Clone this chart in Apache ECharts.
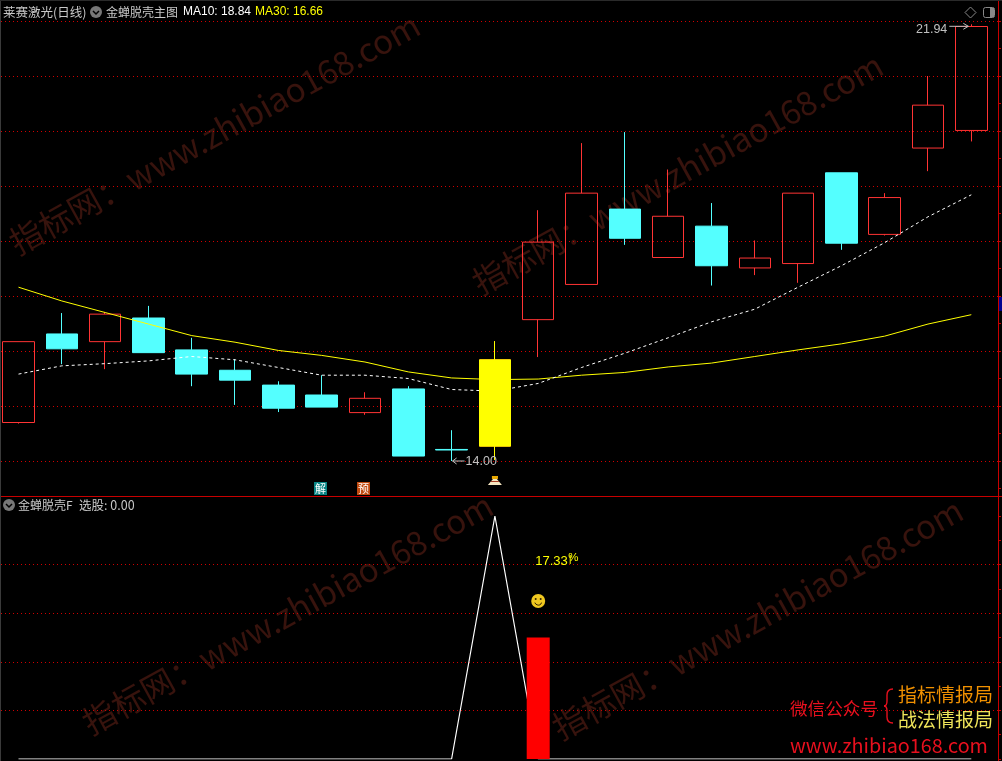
<!DOCTYPE html>
<html><head><meta charset="utf-8">
<style>html,body{margin:0;padding:0;background:#000;overflow:hidden}#c{width:1002px;height:761px}</style>
<script src="https://cdn.jsdelivr.net/npm/echarts@6/dist/echarts.min.js"></script>
</head><body><div id="c"></div>
<script>
const days = ['1','2','3','4','5','6','7','8','9','10','11','12','13','14','15','16','17','18','19','20','21','22','23'];
const opens  = [14.70,16.31,16.17,16.60,16.02,15.65,15.38,15.20,14.88,15.31,14.21,14.27,16.57,17.21,18.58,17.70,18.27,17.51,17.59,19.24,18.12,19.69,20.01];
const closes = [16.17,16.04,16.67,15.97,15.58,15.47,14.96,14.98,15.14,14.09,14.20,15.84,17.98,18.87,18.05,18.45,17.55,17.69,18.87,17.96,18.79,20.47,21.90];
const lows   = [14.68,15.76,15.67,15.97,15.36,15.02,14.89,14.98,14.84,14.09,14.00,14.02,15.89,17.21,17.93,17.70,17.19,17.38,17.24,17.84,18.10,19.27,19.81];
const highs  = [16.17,16.69,16.71,16.82,16.24,15.85,15.45,15.56,15.25,15.36,14.56,16.18,18.56,19.78,19.98,19.30,18.69,18.01,18.87,19.24,18.87,21.00,21.94];
const ma10 = [15.58,15.73,15.77,15.82,15.90,15.84,15.70,15.56,15.56,15.50,15.30,15.27,15.41,15.70,15.96,16.24,16.53,16.76,17.16,17.55,17.97,18.44,18.84];
const ma30 = [17.16,16.91,16.70,16.49,16.28,16.16,16.01,15.92,15.80,15.62,15.51,15.48,15.49,15.56,15.61,15.71,15.78,15.90,16.02,16.13,16.27,16.49,16.66];
const signalLine = [0,0,0,0,0,0,0,0,0,0,0,100,0,0,0,0,0,0,0,0,0,0,0];
const signalBar  = [null,null,null,null,null,null,null,null,null,null,null,null,50,null,null,null,null,null,null,null,null,null,null];
const yellowIndex = 11;
const C_UP='#ff3434', C_DOWN='#54ffff', GRID='#d00000', AXIS='#c80000';
const CJK='"Noto Sans CJK SC",sans-serif', LAT='"Liberation Sans",sans-serif';
const PRICE_MIN=13, PRICE_MAX=13+516/55;

const candles = days.map((d,i)=>[opens[i],closes[i],lows[i],highs[i]]);
const yellowCandles = days.map((d,i)=> i===yellowIndex ? candles[i] : ['-','-','-','-']);

function txt(x,y,text,fill,font,extra){return Object.assign({type:'text',x,y,z:20,silent:true,style:{text,fill,font,textAlign:'left',textVerticalAlign:'middle'}},extra||{});}
function wm(x,y){return {type:'text',x,y,rotation:0.503,z:0,silent:true,style:{text:'指标网：www.zhibiao168.com',fill:'#38130d',font:'33px '+CJK,textAlign:'left',textVerticalAlign:'middle'}};}
function chevron(cx,cy){return [
 {type:'circle',z:20,silent:true,shape:{cx,cy,r:6},style:{fill:'#777'}},
 {type:'polyline',z:21,silent:true,shape:{points:[[cx-3,cy-1],[cx,cy+2],[cx+3,cy-1]]},style:{stroke:'#000',lineWidth:1.5,fill:null}}
];}
const braceStyle={fill:null,stroke:'#e8101e',lineWidth:1.4};
function bez(x1,y1,cx,cy,x2,y2){return {type:'bezierCurve',z:20,silent:true,shape:{x1,y1,cpx1:cx,cpy1:cy,x2,y2},style:braceStyle};}
function seg(x1,y1,x2,y2){return {type:'line',z:20,silent:true,shape:{x1,y1,x2,y2},style:braceStyle};}

const graphicEls = [
 wm(12,245), wm(475,285), wm(85,725), wm(555,730),
 {type:'rect',z:19,silent:true,shape:{x:0,y:496,width:1002,height:1},style:{fill:AXIS}},
 {type:'rect',z:19,silent:true,shape:{x:0,y:0,width:1,height:761},style:{fill:'#3a3a3a'}},
 {type:'rect',z:19,silent:true,shape:{x:0,y:0,width:1002,height:1},style:{fill:'#2a2a2a'}},
 {type:'rect',z:19,silent:true,shape:{x:998,y:759,width:1,height:2},style:{fill:AXIS}},
 {type:'rect',z:19,silent:true,shape:{x:999,y:297,width:3,height:14},style:{fill:'#000090'}},
 txt(3,12,'莱赛激光(日线)','#c8c8c8','12.5px '+CJK),
 ...chevron(96,12),
 txt(106,12,'金蝉脱壳主图','#c8c8c8','12px '+CJK),
 txt(183,12,'MA10: 18.84','#ffffff','12px '+LAT),
 txt(255,12,'MA30: 16.66','#ffff00','12px '+LAT),
 ...chevron(9,505),
 txt(18,505,'金蝉脱壳F','#c8c8c8','12px '+CJK),
 txt(79,505,'选股: 0.00','#c8c8c8','12.5px '+CJK),
 {type:'polygon',z:20,silent:true,shape:{points:[[970.5,7],[976,12.5],[970.5,18],[965,12.5]]},style:{fill:null,stroke:'#888',lineWidth:1}},
 {type:'rect',z:20,silent:true,shape:{x:983.5,y:7.5,width:11,height:10,r:2},style:{fill:null,stroke:'#888',lineWidth:1}},
 {type:'rect',z:20,silent:true,shape:{x:990,y:8,width:4,height:9},style:{fill:'#888'}},
 txt(790,708,'微信公众号','#e8101e','17.6px '+CJK),
 bez(893,689,887,689,887,695), seg(887,695,887,701), bez(887,701,887,706,884,706),
 bez(884,706,887,706,887,711), seg(887,711,887,717), bez(887,717,887,723,893,723),
 txt(898,695,'指标情报局','#f09000','19px '+CJK),
 txt(898,720,'战法情报局','#efe45a','19px '+CJK),
 txt(790,745,'www.zhibiao168.com','#e8101e','19.8px '+CJK)
];

function pin(params,api){
  const kind=api.value(2), p=api.coord([api.value(0),api.value(1)]), x=p[0], y=p[1];
  const s=(t,ax,ay,fill,font,al)=>({type:'text',x:ax,y:ay,silent:true,style:{text:t,fill,font,textAlign:al||'left',textVerticalAlign:'middle'}});
  if(kind===0) return {type:'group',children:[
     {type:'line',silent:true,shape:{x1:x+1,y1:y,x2:x+13,y2:y},style:{stroke:'#c0c0c0',lineWidth:1}},
     {type:'polyline',silent:true,shape:{points:[[x+5,y-3],[x+1,y],[x+5,y+3]]},style:{stroke:'#c0c0c0',fill:null,lineWidth:1}},
     s('14.00',x+14,y+1,'#c0c0c0','12.5px '+LAT)]};
  if(kind===1) return {type:'group',children:[
     {type:'line',silent:true,shape:{x1:x-22,y1:y+2,x2:x-3,y2:y+2},style:{stroke:'#c0c0c0',lineWidth:1}},
     {type:'polyline',silent:true,shape:{points:[[x-8,y-1],[x-3,y+2],[x-8,y+5]]},style:{stroke:'#c0c0c0',fill:null,lineWidth:1}},
     s('21.94',x-24,y+5,'#c0c0c0','12.5px '+LAT,'right')]};
  if(kind===2||kind===3) return {type:'group',children:[
     {type:'rect',silent:true,shape:{x:Math.round(x-7.5),y:Math.round(y-6.5),width:13,height:13},style:{fill:kind===2?'#0a8484':'#c04a10'}},
     s(kind===2?'解':'预',Math.round(x-7.5)+1,y,'#ffffff','11px '+CJK)]};
  if(kind===4) return {type:'group',children:[
     {type:'polygon',silent:true,shape:{points:[[x-7,y+5],[x+7,y+5],[x+2,y-1],[x+3,y-4],[x-3,y-4],[x-2,y-1]]},style:{fill:'#f6e6c0'}},
     {type:'rect',silent:true,shape:{x:x-3,y:y-4,width:6,height:3},style:{fill:'#e8a800'}},
     {type:'rect',silent:true,shape:{x:x-4,y:y+1,width:8,height:1},style:{fill:'#a83a20'}}]};
  if(kind===5) return {type:'group',children:[
     s('17.33',x-3,y+1,'#ffff00','13px '+LAT),
     s('%',x+30,y-2,'#ffff00','11.5px '+LAT),
     {type:'line',silent:true,shape:{x1:x+32,y1:y-5,x2:x+32,y2:y+4},style:{stroke:'#ffff00',lineWidth:1}}]};
  if(kind===6) return {type:'group',children:[
     {type:'circle',silent:true,shape:{cx:x,cy:y,r:7},style:{fill:'#f0c820'}},
     {type:'circle',silent:true,shape:{cx:x-2.5,cy:y-2,r:1},style:{fill:'#332200'}},
     {type:'circle',silent:true,shape:{cx:x+2.5,cy:y-2,r:1},style:{fill:'#332200'}},
     {type:'arc',silent:true,shape:{cx:x,cy:y+0.5,r:3.5,startAngle:0.3,endAngle:Math.PI-0.3},style:{stroke:'#332200',fill:null,lineWidth:1}}]};
}
const topPins = [[10,14.00,0],[22,21.94,1],[7,13.50,2],[8,13.50,3],[11,13.655,4]];
const lowPins = [[12,81.9,5],[12,65,6]];

const splitDots={show:true,showMinLine:false,showMaxLine:false,lineStyle:{color:GRID,type:[1,3],width:1,opacity:1}};
const frameLine={show:true,onZero:false,lineStyle:{color:AXIS}};
const frameTick={show:true,inside:false,length:3,lineStyle:{color:AXIS}};
const frameMinor={show:true,splitNumber:2,length:3,lineStyle:{color:AXIS}};

const option = {
  backgroundColor:'#000', animation:false,
  graphic:{elements:graphicEls},
  grid:[
    {left:18.5,width:952.8,top:0,height:516},
    {left:18.5,width:952.8,top:516,height:243},
    {left:1,width:997,top:0,height:516},
    {left:1,width:997,top:516,height:243}
  ],
  xAxis:[
    {type:'category',data:days,gridIndex:0,show:false,boundaryGap:false},
    {type:'category',data:days,gridIndex:1,show:false,boundaryGap:false},
    {type:'value',gridIndex:2,show:false,min:0,max:1},
    {type:'value',gridIndex:3,show:false,min:0,max:1}
  ],
  yAxis:[
    {type:'value',gridIndex:0,min:PRICE_MIN,max:PRICE_MAX,show:false},
    {type:'value',gridIndex:1,min:0,max:100,show:false},
    {type:'value',gridIndex:2,min:PRICE_MIN,max:PRICE_MAX,interval:1,position:'right',
     axisLine:frameLine,axisTick:frameTick,minorTick:frameMinor,axisLabel:{show:false},splitLine:splitDots},
    {type:'value',gridIndex:3,min:0,max:100,interval:20,position:'right',
     axisLine:frameLine,axisTick:frameTick,minorTick:frameMinor,axisLabel:{show:false},splitLine:splitDots}
  ],
  series:[
    {type:'candlestick',xAxisIndex:0,yAxisIndex:0,z:3,data:candles,barWidth:32,clip:false,
     itemStyle:{color:'transparent',color0:C_DOWN,borderColor:C_UP,borderColor0:C_DOWN,borderWidth:1}},
    {type:'line',xAxisIndex:0,yAxisIndex:0,z:4,data:ma30,symbol:'none',lineStyle:{color:'#ffff00',width:1}},
    {type:'line',xAxisIndex:0,yAxisIndex:0,z:4,data:ma10,symbol:'none',lineStyle:{color:'#ffffff',width:1,type:[3,3]}},
    {type:'candlestick',xAxisIndex:0,yAxisIndex:0,z:5,data:yellowCandles,barWidth:32,clip:false,
     itemStyle:{color:'#ffff00',color0:'#ffff00',borderColor:'#ffff00',borderColor0:'#ffff00',borderWidth:1}},
    {type:'custom',xAxisIndex:0,yAxisIndex:0,z:6,data:topPins,renderItem:pin,encode:{x:0,y:1},clip:false},
    {type:'line',xAxisIndex:1,yAxisIndex:1,z:3,data:signalLine,symbol:'none',lineStyle:{color:'#ffffff',width:1.2}},
    {type:'bar',xAxisIndex:1,yAxisIndex:1,z:4,data:signalBar,barWidth:23,itemStyle:{color:'#ff0000'}},
    {type:'custom',xAxisIndex:1,yAxisIndex:1,z:6,data:lowPins,renderItem:pin,encode:{x:0,y:1},clip:false}
  ]
};
echarts.init(document.getElementById('c'),null,{renderer:'canvas'}).setOption(option);
</script></body></html>
